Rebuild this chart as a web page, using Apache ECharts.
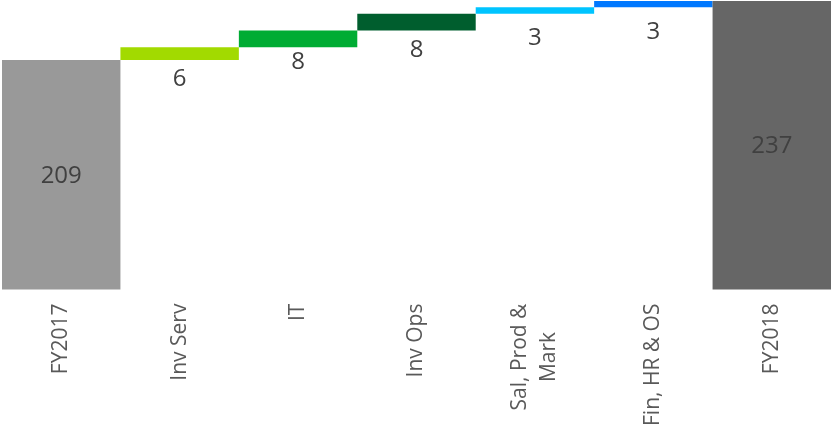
<!DOCTYPE html>
<html>
<head>
<meta charset="utf-8">
<script src="https://cdn.jsdelivr.net/npm/echarts@6/dist/echarts.min.js"></script>
<style>
  html, body { margin: 0; padding: 0; background: #ffffff; }
  #chart { width: 832px; height: 429px; }
</style>
</head>
<body>
<div id="chart"></div>
<script>
// Headcount bridge FY2017 -> FY2018
const categories = ['FY2017', 'Inv Serv', 'IT', 'Inv Ops', 'Sal, Prod &\nMark', 'Fin, HR & OS', 'FY2018'];
const values = [209, 6, 8, 8, 3, 3, 237];
const isTotal = [true, false, false, false, false, false, true];
const barColors = ['#999999', '#A2DA00', '#00AC33', '#005E2E', '#00C4FF', '#0078FF', '#666666'];
// gap between a step bar's lower edge and its value label
const labelDistance = [0, 7, 3, 8, 13, 13, 0];

// running base under each step bar
const bases = [];
let running = 0;
values.forEach((v, i) => {
  if (isTotal[i]) {
    bases.push(0);
    running = v;
  } else {
    bases.push(running);
    running += v;
  }
});

const font = '"Open Sans", "Noto Sans", sans-serif';

const chart = echarts.init(document.getElementById('chart'), null, { renderer: 'canvas' });

chart.setOption({
  animation: false,
  backgroundColor: '#ffffff',
  grid: { left: 2, right: 1, top: 1, bottom: 137, containLabel: false },
  xAxis: {
    type: 'category',
    data: categories,
    axisLine: { show: false },
    axisTick: { show: false },
    splitLine: { show: false },
    axisLabel: {
      interval: 0,
      rotate: 90,
      margin: 14,
      formatter: v => v.split('\n').map(s => '{c|' + s + '}').join('\n'),
      rich: {
        c: {
          fontFamily: font,
          fontSize: 21,
          lineHeight: 29,
          color: '#595959',
          align: 'center'
        }
      }
    }
  },
  yAxis: {
    type: 'value',
    min: 100,
    max: 237,
    show: false,
    splitLine: { show: false }
  },
  series: [
    {
      name: 'base',
      type: 'bar',
      stack: 'bridge',
      barWidth: '100%',
      silent: true,
      itemStyle: { color: 'rgba(0,0,0,0)' },
      data: bases
    },
    {
      name: 'value',
      type: 'bar',
      stack: 'bridge',
      barWidth: '100%',
      clip: true,
      data: values.map((v, i) => ({
        value: v,
        itemStyle: { color: barColors[i] },
        label: {
          show: true,
          position: isTotal[i] ? 'inside' : 'bottom',
          distance: labelDistance[i],
          offset: isTotal[i] ? [0, 1] : [0, 0],
          formatter: String(v),
          fontFamily: font,
          fontSize: 24,
          color: '#404040'
        }
      }))
    }
  ]
});
</script>
</body>
</html>
